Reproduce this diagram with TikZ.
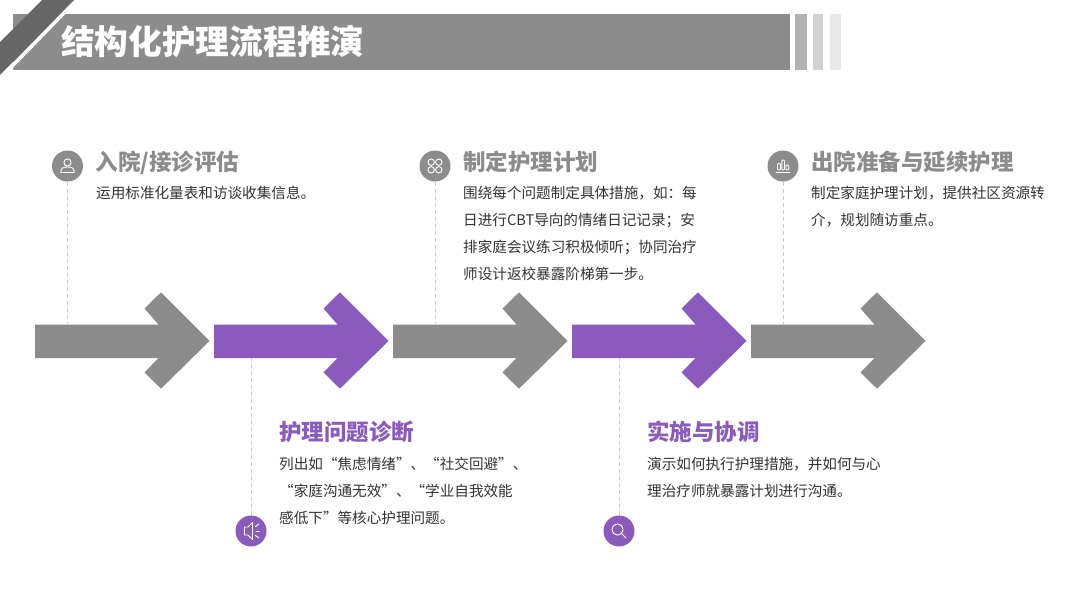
\documentclass[tikz,border=0pt]{standalone}
\usepackage{fontspec}
\setmainfont{Noto Sans CJK SC}
\definecolor{greyA}{HTML}{8C8C8C}
\definecolor{greyD}{HTML}{666666}
\definecolor{purpleA}{HTML}{8A5BBD}
\definecolor{bodyc}{HTML}{333333}
\tikzset{
  iconbg/.style={circle,minimum size=31pt,inner sep=0pt,fill=#1},
  guide/.style={draw=black!20,line width=0.7pt,dash pattern=on 4pt off 3pt},
  headtext/.style={anchor=base west,inner sep=0pt,font=\fontsize{22.5pt}{26pt}\selectfont\bfseries,text=#1},
  bodytext/.style={anchor=north west,inner sep=0pt,align=left,text=bodyc,font=\fontsize{14.6pt}{27pt}\selectfont},
  glyph/.style={draw=white,line width=0.9pt,fill=none,line cap=round,line join=round},
  flowarrow/.style={fill=#1,draw=none},
}
\newcommand{\arrowshape}[2]{%
  \fill[flowarrow=#2,shift={(#1,0)}] (35,324.5) -- (158.5,324.5) -- (144.5,308.5) -- (161,292.3)
    -- (209.5,341) -- (161,388.7) -- (144.5,372.5) -- (158.5,358) -- (35,358) -- cycle;}
\begin{document}
\begin{tikzpicture}[x=1pt,y=-1pt]
\useasboundingbox (0,0) rectangle (1080,608);
\fill[white] (0,0) rectangle (1080,608);
% header
\fill[greyA] (12.7,13.5) rectangle (789.5,69.5);
\fill[black!30] (795.3,13.5) rectangle (806.7,69.5);
\fill[black!18] (812.7,13.5) rectangle (823.3,69.5);
\fill[black!9] (830,13.5) rectangle (841,69.5);
\fill[white] (74,0) -- (79,0) -- (5,76) -- (0,76) -- cycle;
\fill[greyD] (42,0) -- (74,0) -- (0,75) -- (0,42) -- cycle;
\node[anchor=base west,inner sep=0pt,text=white,font=\fontsize{33.7pt}{38pt}\selectfont\bfseries] (title) at (61,54) {结构化护理流程推演};
% arrows
\arrowshape{0}{greyA}
\arrowshape{179}{purpleA}
\arrowshape{358}{greyA}
\arrowshape{537}{purpleA}
\arrowshape{716}{greyA}
\coordinate (a1) at (67.5,324.5);
\coordinate (a2) at (251,358);
\coordinate (a3) at (435,324.5);
\coordinate (a4) at (619,358);
\coordinate (a5) at (783,324.5);
% icon discs
\node[iconbg=greyA] (i1) at (67.5,166) {};
\node[iconbg=purpleA] (i2) at (251,531) {};
\node[iconbg=greyA] (i3) at (435,166) {};
\node[iconbg=purpleA] (i4) at (619,531) {};
\node[iconbg=greyA] (i5) at (783,166) {};
\draw[guide] (i1) -- (a1);
\draw[guide] (i2) -- (a2);
\draw[guide] (i3) -- (a3);
\draw[guide] (i4) -- (a4);
\draw[guide] (i5) -- (a5);
% icon glyphs
\draw[glyph] (67.5,162.5) circle (3.6);
\draw[glyph] (60.8,172.5) .. controls (60.8,168) and (63,167) .. (67.5,167) .. controls (72,167) and (74.2,168) .. (74.2,172.5) -- cycle;
\foreach \dx/\dy in {-3.8/-3.8,3.8/-3.8,-3.8/3.8,3.8/3.8}
  \draw[glyph] (435+\dx,166+\dy) circle (3.2);
\draw[glyph] (776,172.5) -- (790,172.5);
\draw[glyph,rounded corners=1pt] (777.5,170) rectangle (780.5,163.5);
\draw[glyph,rounded corners=1pt] (781.8,170) rectangle (784.6,160);
\draw[glyph,rounded corners=1pt] (786,170) rectangle (788.8,165);
\draw[glyph] (244.5,527) -- (248,527) -- (252.5,522.5) -- (252.5,539.5) -- (248,535) -- (244.5,535) -- cycle;
\draw[glyph] (255.5,526.5) -- (259,524);
\draw[glyph] (256,531) -- (259.5,531);
\draw[glyph] (255.5,535.5) -- (259,538);
\draw[glyph] (617.5,529.5) circle (5.6);
\draw[glyph] (621.7,533.7) -- (626,538);
% texts
\node[headtext=greyA] (h1) at (95.5,170) {入院/接诊评估};
\node[bodytext] (b1) at (96,186) {运用标准化量表和访谈收集信息。};
\node[headtext=greyA] (h3) at (463,170) {制定护理计划};
\node[bodytext] (b3) at (463,186) {围绕每个问题制定具体措施，如：每\\日进行CBT导向的情绪日记记录；安\\排家庭会议练习积极倾听；协同治疗\\师设计返校暴露阶梯第一步。};
\node[headtext=greyA] (h5) at (811,170) {出院准备与延续护理};
\node[bodytext] (b5) at (811,186) {制定家庭护理计划，提供社区资源转\\介，规划随访重点。};
\node[headtext=purpleA] (h2) at (279,440) {护理问题诊断};
\node[bodytext] (b2) at (279,457) {列出如“焦虑情绪”、“社交回避”、\\“家庭沟通无效”、“学业自我效能\\感低下”等核心护理问题。};
\node[headtext=purpleA] (h4) at (647,440) {实施与协调};
\node[bodytext] (b4) at (647,457) {演示如何执行护理措施，并如何与心\\理治疗师就暴露计划进行沟通。};
\end{tikzpicture}
\end{document}
